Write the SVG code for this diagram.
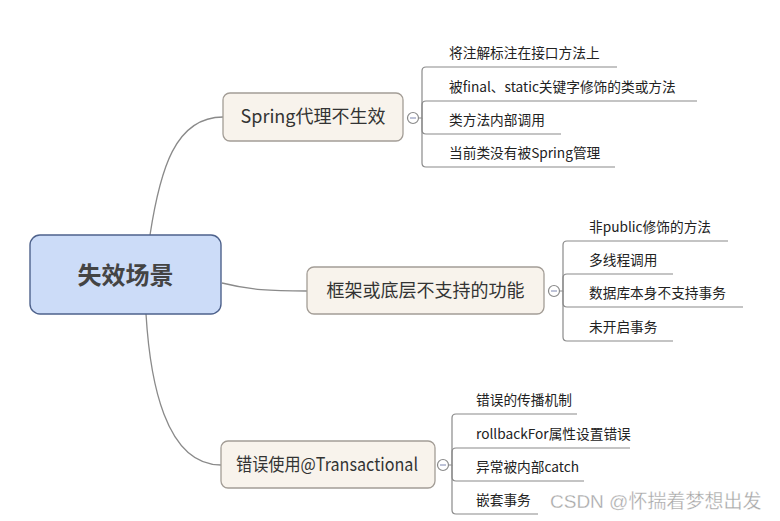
<svg xmlns="http://www.w3.org/2000/svg" width="780" height="521" viewBox="0 0 780 521">
<style>
.conn{fill:none;stroke:#8a8a8a;stroke-width:1.3}
.br{fill:none;stroke:#8a8a8a;stroke-width:1.2}
.topic{fill:#f8f3ec;stroke:#a39d96;stroke-width:1.3}
.tt{font-family:"Noto Sans CJK SC","Noto Sans",sans-serif;font-size:18px;fill:#333;text-anchor:middle}
.ct{font-family:"Noto Sans CJK SC","Noto Sans",sans-serif;font-size:13.7px;fill:#222}
.col{fill:#fff;stroke:#8a8a8a;stroke-width:1.2}
.minus{stroke:#7c86b0;stroke-width:1}
</style>
<rect width="780" height="521" fill="#ffffff"/>
<g id="connectors">
<path class="conn" d="M150,235 C160,170 175,117 223,117"/>
<path class="conn" d="M222,283 C250,290 270,291 307,291"/>
<path class="conn" d="M146,314 C150,380 165,465 221,465"/>
<path class="br" d="M418,118 H422 V71 Q422,67 426,67 H617"/>
<path class="br" d="M422,118 V105 Q422,101 426,101 H697"/>
<path class="br" d="M422,118 V130 Q422,134 426,134 H561"/>
<path class="br" d="M422,118 V163 Q422,167 426,167 H615"/>
<path class="br" d="M559,291 H563 V245 Q563,241 567,241 H728"/>
<path class="br" d="M563,291 V278 Q563,274 567,274 H673"/>
<path class="br" d="M563,291 V303 Q563,307 567,307 H743"/>
<path class="br" d="M563,291 V337 Q563,341 567,341 H673"/>
<path class="br" d="M448,465 H452 V418 Q452,414 456,414 H577"/>
<path class="br" d="M452,465 V452 Q452,448 456,448 H630"/>
<path class="br" d="M452,465 V477 Q452,481 456,481 H584"/>
<path class="br" d="M452,465 V510 Q452,514 456,514 H538"/>
</g>
<g id="root">
<rect x="30" y="235" width="191" height="79" rx="10" fill="#ccdcf8" stroke="#4e628c" stroke-width="1.4"/>
<text x="125.5" y="284" font-family="'Noto Sans CJK SC',sans-serif" font-size="24" font-weight="bold" fill="#444" text-anchor="middle">失效场景</text>
</g>
<g id="spring">
<rect class="topic" x="223" y="93" width="180" height="48" rx="7"/>
<text class="tt" x="313" y="123">Spring代理不生效</text>
<circle class="col" cx="413" cy="118" r="5.5"/>
<line class="minus" x1="410" y1="118" x2="416" y2="118"/>
</g>
<g id="framework">
<rect class="topic" x="307" y="267" width="237" height="47" rx="7"/>
<text class="tt" x="425.5" y="297">框架或底层不支持的功能</text>
<circle class="col" cx="554" cy="291" r="5.5"/>
<line class="minus" x1="551" y1="291" x2="557" y2="291"/>
</g>
<g id="wronguse">
<rect class="topic" x="221" y="441" width="214" height="47" rx="7"/>
<text class="tt" x="327" y="471" textLength="182" lengthAdjust="spacingAndGlyphs">错误使用@Transactional</text>
<circle class="col" cx="443" cy="465" r="5.5"/>
<line class="minus" x1="440" y1="465" x2="446" y2="465"/>
</g>
<g id="c1"><text class="ct" x="449" y="58">将注解标注在接口方法上</text></g>
<g id="c2"><text class="ct" x="449" y="92">被final、static关键字修饰的类或方法</text></g>
<g id="c3"><text class="ct" x="449" y="125">类方法内部调用</text></g>
<g id="c4"><text class="ct" x="449" y="158">当前类没有被Spring管理</text></g>
<g id="c5"><text class="ct" x="589" y="232">非public修饰的方法</text></g>
<g id="c6"><text class="ct" x="589" y="265">多线程调用</text></g>
<g id="c7"><text class="ct" x="589" y="298">数据库本身不支持事务</text></g>
<g id="c8"><text class="ct" x="589" y="332">未开启事务</text></g>
<g id="c9"><text class="ct" x="476" y="405">错误的传播机制</text></g>
<g id="c10"><text class="ct" x="476" y="439">rollbackFor属性设置错误</text></g>
<g id="c11"><text class="ct" x="476" y="472">异常被内部catch</text></g>
<g id="c12"><text class="ct" x="476" y="505">嵌套事务</text></g>
<text x="550" y="508" font-family="'Liberation Sans','Noto Sans CJK SC',sans-serif" font-size="19" fill="#a6a6a6" stroke="#ffffff" stroke-width="0.3">CSDN @怀揣着梦想出发</text>
</svg>
